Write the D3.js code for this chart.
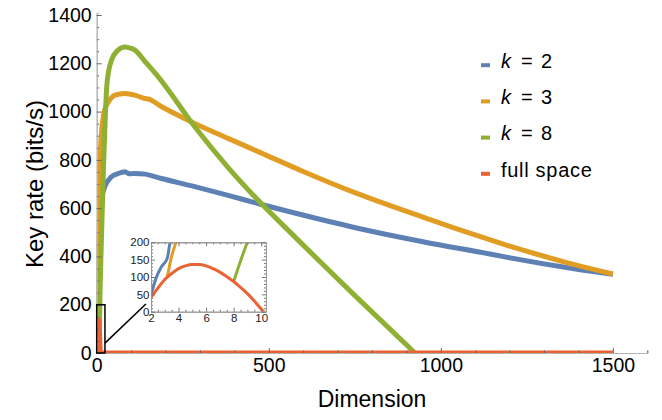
<!DOCTYPE html>
<html>
<head>
<meta charset="utf-8">
<script src="https://cdn.jsdelivr.net/npm/d3@7"></script>
<style>
  body { margin: 0; background: #fff; }
  svg { display: block; font-family: "Liberation Sans", Arial, sans-serif; }
</style>
</head>
<body>
<div id="chart"></div>
<script>
// data: [dimension, key rate]
const k2Points = [[2, 48], [2.41, 101], [2.77, 130], [3.18, 154], [3.38, 200], [3.6, 250], [4, 300], [6, 450], [10, 580],
  [16, 650], [24, 690], [43, 730], [60, 742], [82, 751], [95, 742], [111, 744], [140, 741], [188, 723], [285, 689],
  [382, 653], [479, 615], [561, 585], [755, 518], [948, 461], [1142, 410], [1190, 397], [1383, 350], [1500, 326]];

const k3Points = [[3.18, 99], [3.5, 160], [3.81, 200], [5, 360], [7, 540], [9, 720], [11.6, 854], [15, 930], [19, 978],
  [25, 1015], [34, 1040], [53, 1068], [82, 1075], [111, 1068], [140, 1054], [150, 1052], [189, 1020], [285, 951],
  [382, 889], [479, 828], [600, 752], [754, 662], [948, 563], [1093, 492], [1190, 447], [1287, 406],
  [1383, 368], [1500, 327]];

const k8Points = [[8, 87], [9, 200], [11, 330], [14.5, 509], [20, 780], [25, 980], [29, 1100], [35, 1170], [43, 1213],
  [60, 1252], [82, 1268], [100, 1262], [111, 1255], [140, 1208], [179, 1144], [285, 937], [382, 768], [479, 618],
  [556, 509], [764, 219], [925, 0]];

const fullPoints = [[2, 41], [2.5, 68], [3, 93], [3.5, 110], [4, 124], [4.5, 132], [5, 136], [5.5, 136], [6, 132],
  [6.5, 124], [7, 114], [7.5, 101], [8, 87], [8.5, 70], [9, 52], [9.5, 31], [10, 8], [10.2, 0], [1500, 0]];

const seriesNames = ["k = 2", "k = 3", "k = 8", "full space"];
const seriesColors = ["#5e81b5", "#e19c24", "#8fb032", "#eb6235"];
const series = [k2Points, k3Points, k8Points, fullPoints];

const xMajor = [0, 500, 1000, 1500];
const yMajor = [0, 200, 400, 600, 800, 1000, 1200, 1400];
const insetXMajor = [2, 4, 6, 8, 10];
const insetYMajor = [0, 50, 100, 150, 200];

const width = 662, height = 420;

const svg = d3.select("#chart")
  .append("svg")
  .attr("width", width)
  .attr("height", height);

// main scales
const x = d3.scaleLinear().domain([0, 1600]).range([96.7, 647.3]);
const y = d3.scaleLinear().domain([0, 1410]).range([353, 12.6]);

// clip for the main plot
svg.append("clipPath").attr("id", "mainClip")
  .append("rect")
  .attr("x", x(0)).attr("y", 0)
  .attr("width", x(1600) - x(0)).attr("height", y(0));

const line = d3.line()
  .x(d => x(d[0]))
  .y(d => y(d[1]))
  .curve(d3.curveMonotoneX);

const plot = svg.append("g").attr("clip-path", "url(#mainClip)");
series.forEach((s, i) => {
  plot.append("path")
    .datum(s)
    .attr("d", line)
    .attr("fill", "none")
    .attr("stroke", seriesColors[i])
    .attr("stroke-width", 5)
    .attr("stroke-linejoin", "round");
});

// axes
function styleAxis(g) {
  g.select(".domain").attr("stroke", "#b3b3b3");
  g.selectAll(".tick line").attr("stroke", "#666");
}

const xMinor = d3.range(0, 1601, 100).filter(v => !xMajor.includes(v));
const yMinor = d3.range(0, 1401, 50).filter(v => !yMajor.includes(v));

svg.append("g")
  .attr("transform", `translate(0,${y(0)})`)
  .call(d3.axisBottom(x).tickValues(xMinor).tickSize(-2.5).tickFormat(""))
  .call(styleAxis);
svg.append("g")
  .attr("transform", `translate(0,${y(0)})`)
  .call(d3.axisBottom(x).tickValues(xMajor).tickSizeInner(-5).tickSizeOuter(0).tickPadding(5).tickFormat(d3.format("d")))
  .call(styleAxis)
  .call(g => g.selectAll("text").attr("font-size", 19.5).attr("fill", "#000"));

svg.append("g")
  .attr("transform", `translate(${x(0)},0)`)
  .call(d3.axisLeft(y).tickValues(yMinor).tickSize(-2.5).tickFormat(""))
  .call(styleAxis);
svg.append("g")
  .attr("transform", `translate(${x(0)},0)`)
  .call(d3.axisLeft(y).tickValues(yMajor).tickSizeInner(-5).tickSizeOuter(0).tickPadding(5).tickFormat(d3.format("d")))
  .call(styleAxis)
  .call(g => g.selectAll("text").attr("font-size", 19.5).attr("fill", "#000"));

// axis titles
svg.append("text")
  .attr("x", 372).attr("y", 407)
  .attr("text-anchor", "middle")
  .attr("font-size", 23)
  .text("Dimension");

svg.append("text")
  .attr("transform", `translate(43,${(y(0) + y(1400)) / 2}) rotate(-90)`)
  .attr("text-anchor", "middle")
  .attr("font-size", 24)
  .text("Key rate (bits/s)");

// zoom box and pointer
svg.append("rect")
  .attr("x", x(0)).attr("y", y(200))
  .attr("width", x(24) - x(0)).attr("height", y(0) - y(200))
  .attr("fill", "none").attr("stroke", "#000").attr("stroke-width", 1.5);
svg.append("line")
  .attr("x1", x(24)).attr("y1", y(41))
  .attr("x2", x(143)).attr("y2", y(203))
  .attr("stroke", "#000").attr("stroke-width", 1.5);

// inset
const ix = d3.scaleLinear().domain([2, 10.35]).range([151, 266]);
const iy = d3.scaleLinear().domain([0, 200]).range([311.7, 242.3]);

const inset = svg.append("g");
inset.append("rect")
  .attr("x", ix.range()[0]).attr("y", iy.range()[1])
  .attr("width", ix.range()[1] - ix.range()[0]).attr("height", iy.range()[0] - iy.range()[1])
  .attr("fill", "#fff");

inset.append("clipPath").attr("id", "insetClip")
  .append("rect")
  .attr("x", ix.range()[0]).attr("y", iy.range()[1])
  .attr("width", ix.range()[1] - ix.range()[0]).attr("height", iy.range()[0] - iy.range()[1]);

const insetLine = d3.line()
  .x(d => ix(d[0]))
  .y(d => iy(d[1]))
  .curve(d3.curveMonotoneX);

const insetPlot = inset.append("g").attr("clip-path", "url(#insetClip)");
series.forEach((s, i) => {
  insetPlot.append("path")
    .datum(s.filter(d => d[0] <= 12))
    .attr("d", insetLine)
    .attr("fill", "none")
    .attr("stroke", seriesColors[i])
    .attr("stroke-width", 3)
    .attr("stroke-linejoin", "round");
});

const ixMinor = d3.range(2, 10.3, 0.5).filter(v => !insetXMajor.includes(v));
const iyMinor = d3.range(0, 201, 10).filter(v => !insetYMajor.includes(v));

function insetFrame(g) {
  g.select(".domain").attr("stroke", "#999");
  g.selectAll(".tick line").attr("stroke", "#777");
  g.selectAll("text").attr("font-size", 11.5).attr("fill", "#222");
}

// bottom / top
[[iy.range()[0], d3.axisBottom, true], [iy.range()[1], d3.axisTop, false]].forEach(([pos, axisFn, labels]) => {
  inset.append("g").attr("transform", `translate(0,${pos})`)
    .call(axisFn(ix).tickValues(ixMinor).tickSize(-2).tickSizeOuter(0).tickFormat(""))
    .call(insetFrame);
  inset.append("g").attr("transform", `translate(0,${pos})`)
    .call(axisFn(ix).tickValues(insetXMajor).tickSizeInner(-4).tickSizeOuter(0).tickPadding(2)
      .tickFormat(labels ? d3.format("d") : ""))
    .call(insetFrame);
});
// left / right
[[ix.range()[0], d3.axisLeft, true], [ix.range()[1], d3.axisRight, false]].forEach(([pos, axisFn, labels]) => {
  inset.append("g").attr("transform", `translate(${pos},0)`)
    .call(axisFn(iy).tickValues(iyMinor).tickSize(-2).tickSizeOuter(0).tickFormat(""))
    .call(insetFrame);
  inset.append("g").attr("transform", `translate(${pos},0)`)
    .call(axisFn(iy).tickValues(insetYMajor).tickSizeInner(-4).tickSizeOuter(0).tickPadding(1.5)
      .tickFormat(labels ? d3.format("d") : ""))
    .call(insetFrame);
});

// legend
const legend = svg.append("g");
seriesNames.forEach((name, i) => {
  const base = 68 + i * 36.2;
  legend.append("rect")
    .attr("x", 481).attr("y", base - 4.8)
    .attr("width", 9).attr("height", 4)
    .attr("fill", seriesColors[i]);
  const t = legend.append("text")
    .attr("y", base)
    .attr("font-size", 20);
  if (name.startsWith("k")) {
    const parts = name.split(" ");
    t.append("tspan").attr("x", 501).attr("font-style", "italic").text(parts[0]);
    t.append("tspan").attr("x", 521).text(parts[1]);
    t.append("tspan").attr("x", 541).text(parts[2]);
  } else {
    t.attr("x", 501).attr("letter-spacing", 0.7).text(name);
  }
});
</script>
</body>
</html>
